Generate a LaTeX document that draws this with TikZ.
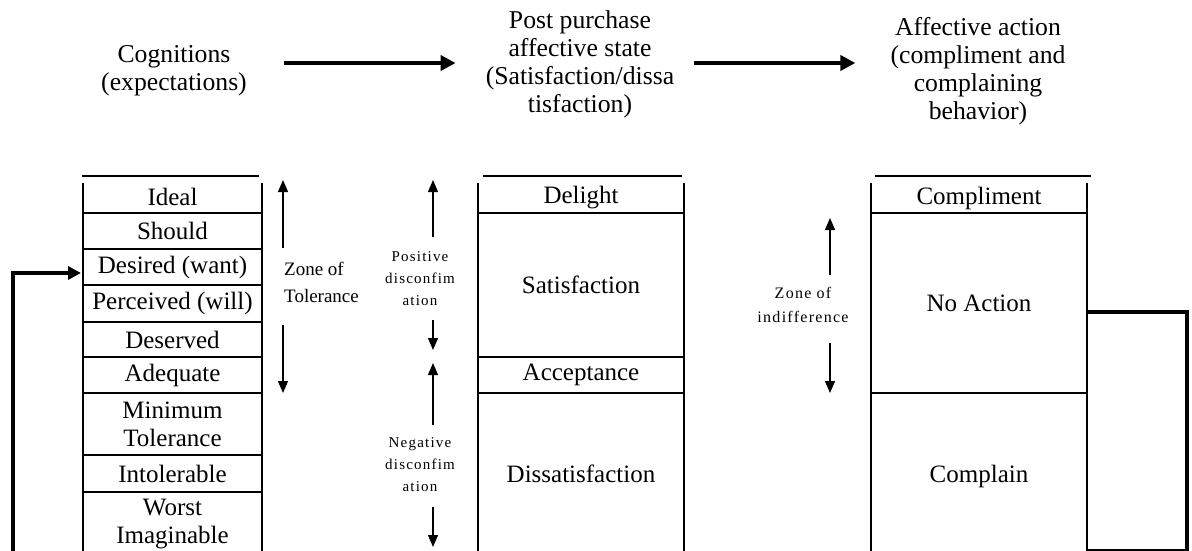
\documentclass[tikz,border=0pt]{standalone}
\usepackage{fontspec}
\setmainfont{Liberation Serif}
\newfontfamily\notefont[LetterSpace=8]{Liberation Serif}
\usetikzlibrary{arrows.meta,positioning}

\begin{document}
\begin{tikzpicture}[x=1pt,y=-1pt,
    cell/.style={draw, line width=1.3pt, inner sep=0pt, outer sep=0pt, align=center,
                 font=\fontsize{25}{28}\selectfont},
    topcell/.style={cell, draw=none},
    head/.style={inner sep=0pt, align=center, font=\fontsize{25.7}{28}\selectfont},
    note/.style={inner sep=0pt, align=center, font=\notefont\fontsize{15}{22}\selectfont},
    flow/.style={line width=4pt, -{Triangle[length=15pt,width=15pt]}},
    zone/.style={line width=1.3pt, -{Triangle[length=12pt,width=10pt]}},
    loopline/.style={line width=4pt}]
    \useasboundingbox (0,0) rectangle (1192,551);

    % headings
    \node[head] (cog) at (174,71) {Cognitions\\(expectations)};
    \node[head] (post) at (580,64) {Post purchase\\affective state\\(Satisfaction/dissa\\tisfaction)};
    \node[head] (act) at (978,71) {Affective action\\(compliment and\\complaining\\behavior)};
    \draw[flow, shorten <=37pt, shorten >=30pt] ([yshift=1pt]cog.east |- post.center) -- ([yshift=1pt]post.west);
    \draw[flow, shorten <=20pt, shorten >=35pt] ([yshift=1pt]post.east) -- ([yshift=1pt]act.west |- post.center);

    % expectations column
    \node[topcell, minimum width=179, minimum height=30] (ideal) at (172.5,198) {\raisebox{1.5pt}{Ideal}};
    \foreach \n/\y/\h/\t in {should/231/36/Should, desired/267/36/Desired (want),
            perceived/303.5/37/Perceived (will), deserved/339.5/35/Deserved,
            adequate/375/36/Adequate, mintol/424/62/{Minimum\\Tolerance},
            intol/473.5/37/Intolerable, worst/524/64/{Worst\\Imaginable}}
        \node[cell, minimum width=179, minimum height=\h] (\n) at (172.5,\y) {\t};

    % affective state column
    \node[topcell, minimum width=206, minimum height=30] (delight) at (581,198) {\raisebox{1pt}{Delight}};
    \node[cell, minimum width=206, minimum height=144] (satis) at (581,285) {Satisfaction};
    \node[cell, minimum width=206, minimum height=36] (accept) at (581,375) {Acceptance};
    \node[cell, minimum width=206, minimum height=162] (dissat) at (581,474) {Dissatisfaction};

    % action column
    \node[topcell, minimum width=216, minimum height=30] (compl) at (979,198) {\raisebox{1pt}{Compliment}};
    \node[cell, minimum width=216, minimum height=180] (noaction) at (979,303) {No Action};
    \node[cell, minimum width=216, minimum height=166] (complain) at (979,476) {Complain};

    % open top cells and the lines above them
    \foreach \c/\l/\r in {ideal/-1/-3, delight/5/-2, compl/4/4} {
        \draw[line width=1.3pt] (\c.north west) -- (\c.south west) -- (\c.south east) -- (\c.north east);
        \draw[line width=1.3pt] ([shift={(\l,-7)}]\c.north west) -- ([shift={(\r,-7)}]\c.north east);
    }

    % zone labels
    \node[inner sep=0pt, align=left, anchor=west, font=\fontsize{19}{27}\selectfont]
        (tolzone) at (284,282) {Zone of\\Tolerance};
    \node[note] (posnote) at (420,279) {Positive\\disconfim\\ation};
    \node[note] (negnote) at (420,465) {Negative\\disconfim\\ation};
    \node[note, font=\notefont\fontsize{16}{24}\selectfont] (indnote) at (803,305) {Zone of\\indifference};

    \coordinate (tolA) at (283,248); \coordinate (tolB) at (283,180);
    \coordinate (tolC) at (283,325); \coordinate (tolD) at (283,393);
    \coordinate (posA) at (433,237); \coordinate (posB) at (433,180);
    \coordinate (posC) at (433,320); \coordinate (posD) at (433,350);
    \coordinate (negA) at (433,425); \coordinate (negB) at (433,363);
    \coordinate (negC) at (433,507); \coordinate (negD) at (433,547);
    \coordinate (indA) at (830,275); \coordinate (indB) at (830,218);
    \coordinate (indC) at (830,343); \coordinate (indD) at (830,393);
    \foreach \z in {tol,pos,neg,ind} {
        \draw[zone] (\z A) -- (\z B);
        \draw[zone] (\z C) -- (\z D);
    }

    % feedback loop
    \coordinate (loopL) at (13,560);
    \coordinate (loopR) at (1187,550.5);
    \draw[loopline, -{Triangle[length=13pt,width=13pt]}, shorten >=2pt]
        (loopL) |- ([yshift=-6pt]desired.west);
    \draw[loopline] ([yshift=-9pt]noaction.east) -| (loopR) -- (loopR -| complain.east);
\end{tikzpicture}
\end{document}
